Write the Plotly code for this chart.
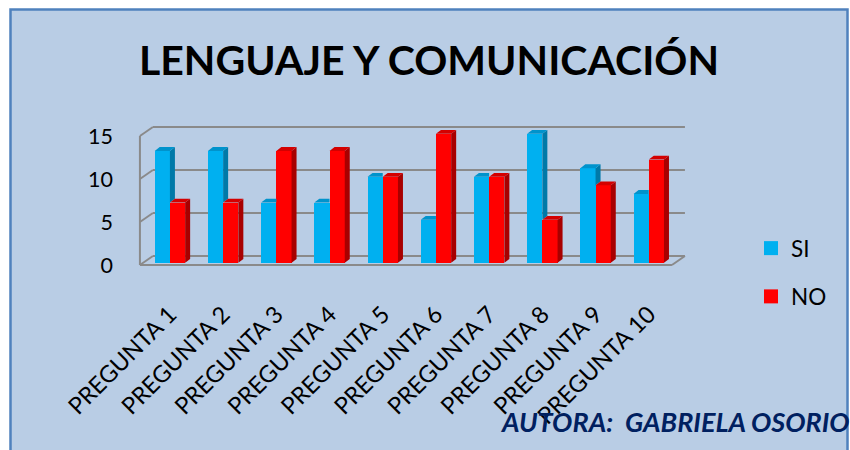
import plotly.graph_objects as go

# ---- data ----
preguntas = [f"PREGUNTA {i}" for i in range(1, 11)]
si_values = [13, 13, 7, 7, 10, 5, 10, 15, 11, 8]
no_values = [7, 7, 13, 13, 10, 15, 10, 5, 9, 12]
y_ticks = [0, 5, 10, 15]

# ---- page geometry (pixels) ----
W_PX, H_PX = 850, 450
ML, MR, MT, MB = 138, 164, 124, 182
X_RANGE = [-0.6, 9.7]
Y_RANGE = [-3 / 8.6, 141 / 8.6]

# ---- pseudo-3D geometry (axis units) ----
WALL_X = -0.564          # front edge of left wall
FLOOR_R = 9.436          # front right corner of floor
DX, DY = 0.244, 1.047    # depth of the back wall
BAR_W = 0.286            # width of one bar face
BASE = 0.26              # bars stand slightly behind the front edge
BDX, BDY = 0.094, 0.45   # bar depth

SI_FRONT, SI_SIDE, SI_TOP = "#00B0F0", "#0079A8", "#0093CC"
NO_FRONT, NO_SIDE, NO_TOP = "#FF0000", "#A80000", "#D40000"
GRID = "#8A8A8A"
BG = "#B9CDE5"
FONT = "Lato, 'Open Sans', sans-serif"

xs = list(range(len(preguntas)))


def px_x(px):
    return (px - ML) / (W_PX - ML - MR)


def px_y(py):
    return (H_PX - MB - py) / (H_PX - MT - MB)


def poly_trace(polys, color):
    xx, yy = [], []
    for p in polys:
        for (a, b) in p:
            xx.append(a)
            yy.append(b)
        xx.append(p[0][0])
        yy.append(p[0][1])
        xx.append(None)
        yy.append(None)
    return go.Scatter(x=xx, y=yy, mode="lines", fill="toself", fillcolor=color,
                      line=dict(width=0, color=color), hoverinfo="skip",
                      showlegend=False, connectgaps=False)


si_sides, si_tops, no_sides, no_tops = [], [], [], []
for i, s, n in zip(xs, si_values, no_values):
    # SI bar (left of the pair)
    xl, xr = i - BAR_W, i
    yt = BASE + s
    if s > n:
        si_tops.append([(xl, yt), (xl + BDX, yt + BDY), (xr + BDX, yt + BDY), (xr, yt)])
        yn = BASE + n
        si_sides.append([(xr, yn), (xr + BDX, yn + BDY), (xr + BDX, yt + BDY), (xr, yt)])
    else:
        si_tops.append([(xl, yt), (xl + BDX, yt + BDY), (xr, yt + BDY), (xr, yt)])
    # NO bar (right of the pair)
    xl, xr = i, i + BAR_W
    yt = BASE + n
    no_tops.append([(xl, yt), (xl + BDX, yt + BDY), (xr + BDX, yt + BDY), (xr, yt)])
    no_sides.append([(xr, BASE), (xr + BDX, BASE + BDY), (xr + BDX, yt + BDY), (xr, yt)])

fig = go.Figure()
fig.add_trace(go.Bar(x=xs, y=si_values, base=[BASE] * len(xs), width=BAR_W, offset=-BAR_W,
                     marker=dict(color=SI_FRONT, line=dict(width=0)), name="SI", showlegend=False))
fig.add_trace(go.Bar(x=xs, y=no_values, base=[BASE] * len(xs), width=BAR_W, offset=0,
                     marker=dict(color=NO_FRONT, line=dict(width=0)), name="NO", showlegend=False))
fig.add_trace(poly_trace(si_sides, SI_SIDE))
fig.add_trace(poly_trace(si_tops, SI_TOP))
fig.add_trace(poly_trace(no_sides, NO_SIDE))
fig.add_trace(poly_trace(no_tops, NO_TOP))

# legend entries
for name, color in [("SI", SI_FRONT), ("NO", NO_FRONT)]:
    fig.add_trace(go.Scatter(x=[None], y=[None], mode="markers", name=name,
                             marker=dict(symbol="square", size=14, color=color),
                             legendgroup=name))

shapes = [
    dict(type="rect", xref="paper", yref="paper", layer="below",
         x0=px_x(10.5), x1=px_x(847.5), y0=px_y(470), y1=px_y(9.5),
         fillcolor=BG, line=dict(color="#4F81BD", width=2.5)),
]


def seg(x0, y0, x1, y1):
    return dict(type="line", xref="x", yref="y", layer="below",
                x0=x0, y0=y0, x1=x1, y1=y1, line=dict(color=GRID, width=2))


for v in y_ticks:
    shapes.append(seg(WALL_X + DX, v + DY, FLOOR_R + DX, v + DY))
    shapes.append(seg(WALL_X, v, WALL_X + DX, v + DY))
shapes.append(seg(WALL_X, 0, WALL_X, y_ticks[-1]))
shapes.append(seg(WALL_X, 0, FLOOR_R, 0))
shapes.append(seg(FLOOR_R, 0, FLOOR_R + DX, DY))

annotations = [
    dict(text="<b>LENGUAJE Y COMUNICACIÓN</b>", xref="paper", yref="paper",
         x=px_x(428.7), y=px_y(59), xanchor="center", yanchor="middle",
         showarrow=False, font=dict(family=FONT, size=41, color="#000000")),
    dict(text="<b><i>AUTORA:  GABRIELA OSORIO</i></b>", xref="paper", yref="paper",
         x=px_x(498), y=px_y(421), xanchor="left", yanchor="middle",
         showarrow=False, font=dict(family=FONT, size=27, color="#002060")),
]

fig.update_layout(
    width=W_PX, height=H_PX,
    margin=dict(l=ML, r=MR, t=MT, b=MB, autoexpand=False),
    paper_bgcolor="#FFFFFF", plot_bgcolor="rgba(0,0,0,0)",
    barmode="overlay", bargap=0,
    shapes=shapes, annotations=annotations,
    font=dict(family=FONT, size=21, color="#000000"),
    legend=dict(x=751 / W_PX, y=1 - 227 / H_PX, xref="container", yref="container",
                xanchor="left", yanchor="top", bgcolor="rgba(0,0,0,0)",
                font=dict(family=FONT, size=22.5), tracegroupgap=16,
                itemsizing="trace"),
    xaxis=dict(range=X_RANGE, tickvals=xs, ticktext=preguntas, tickangle=-45,
               showgrid=False, zeroline=False, showline=False, ticks="",
               ticklabelstandoff=27, tickfont=dict(family=FONT, size=23.5), fixedrange=True),
    yaxis=dict(range=Y_RANGE, tickvals=y_ticks, showgrid=False, zeroline=False,
               showline=False, ticks="", ticklabelstandoff=24,
               tickfont=dict(family=FONT, size=21.5), fixedrange=True),
    hovermode=False,
)

fig.write_html("out.html")
